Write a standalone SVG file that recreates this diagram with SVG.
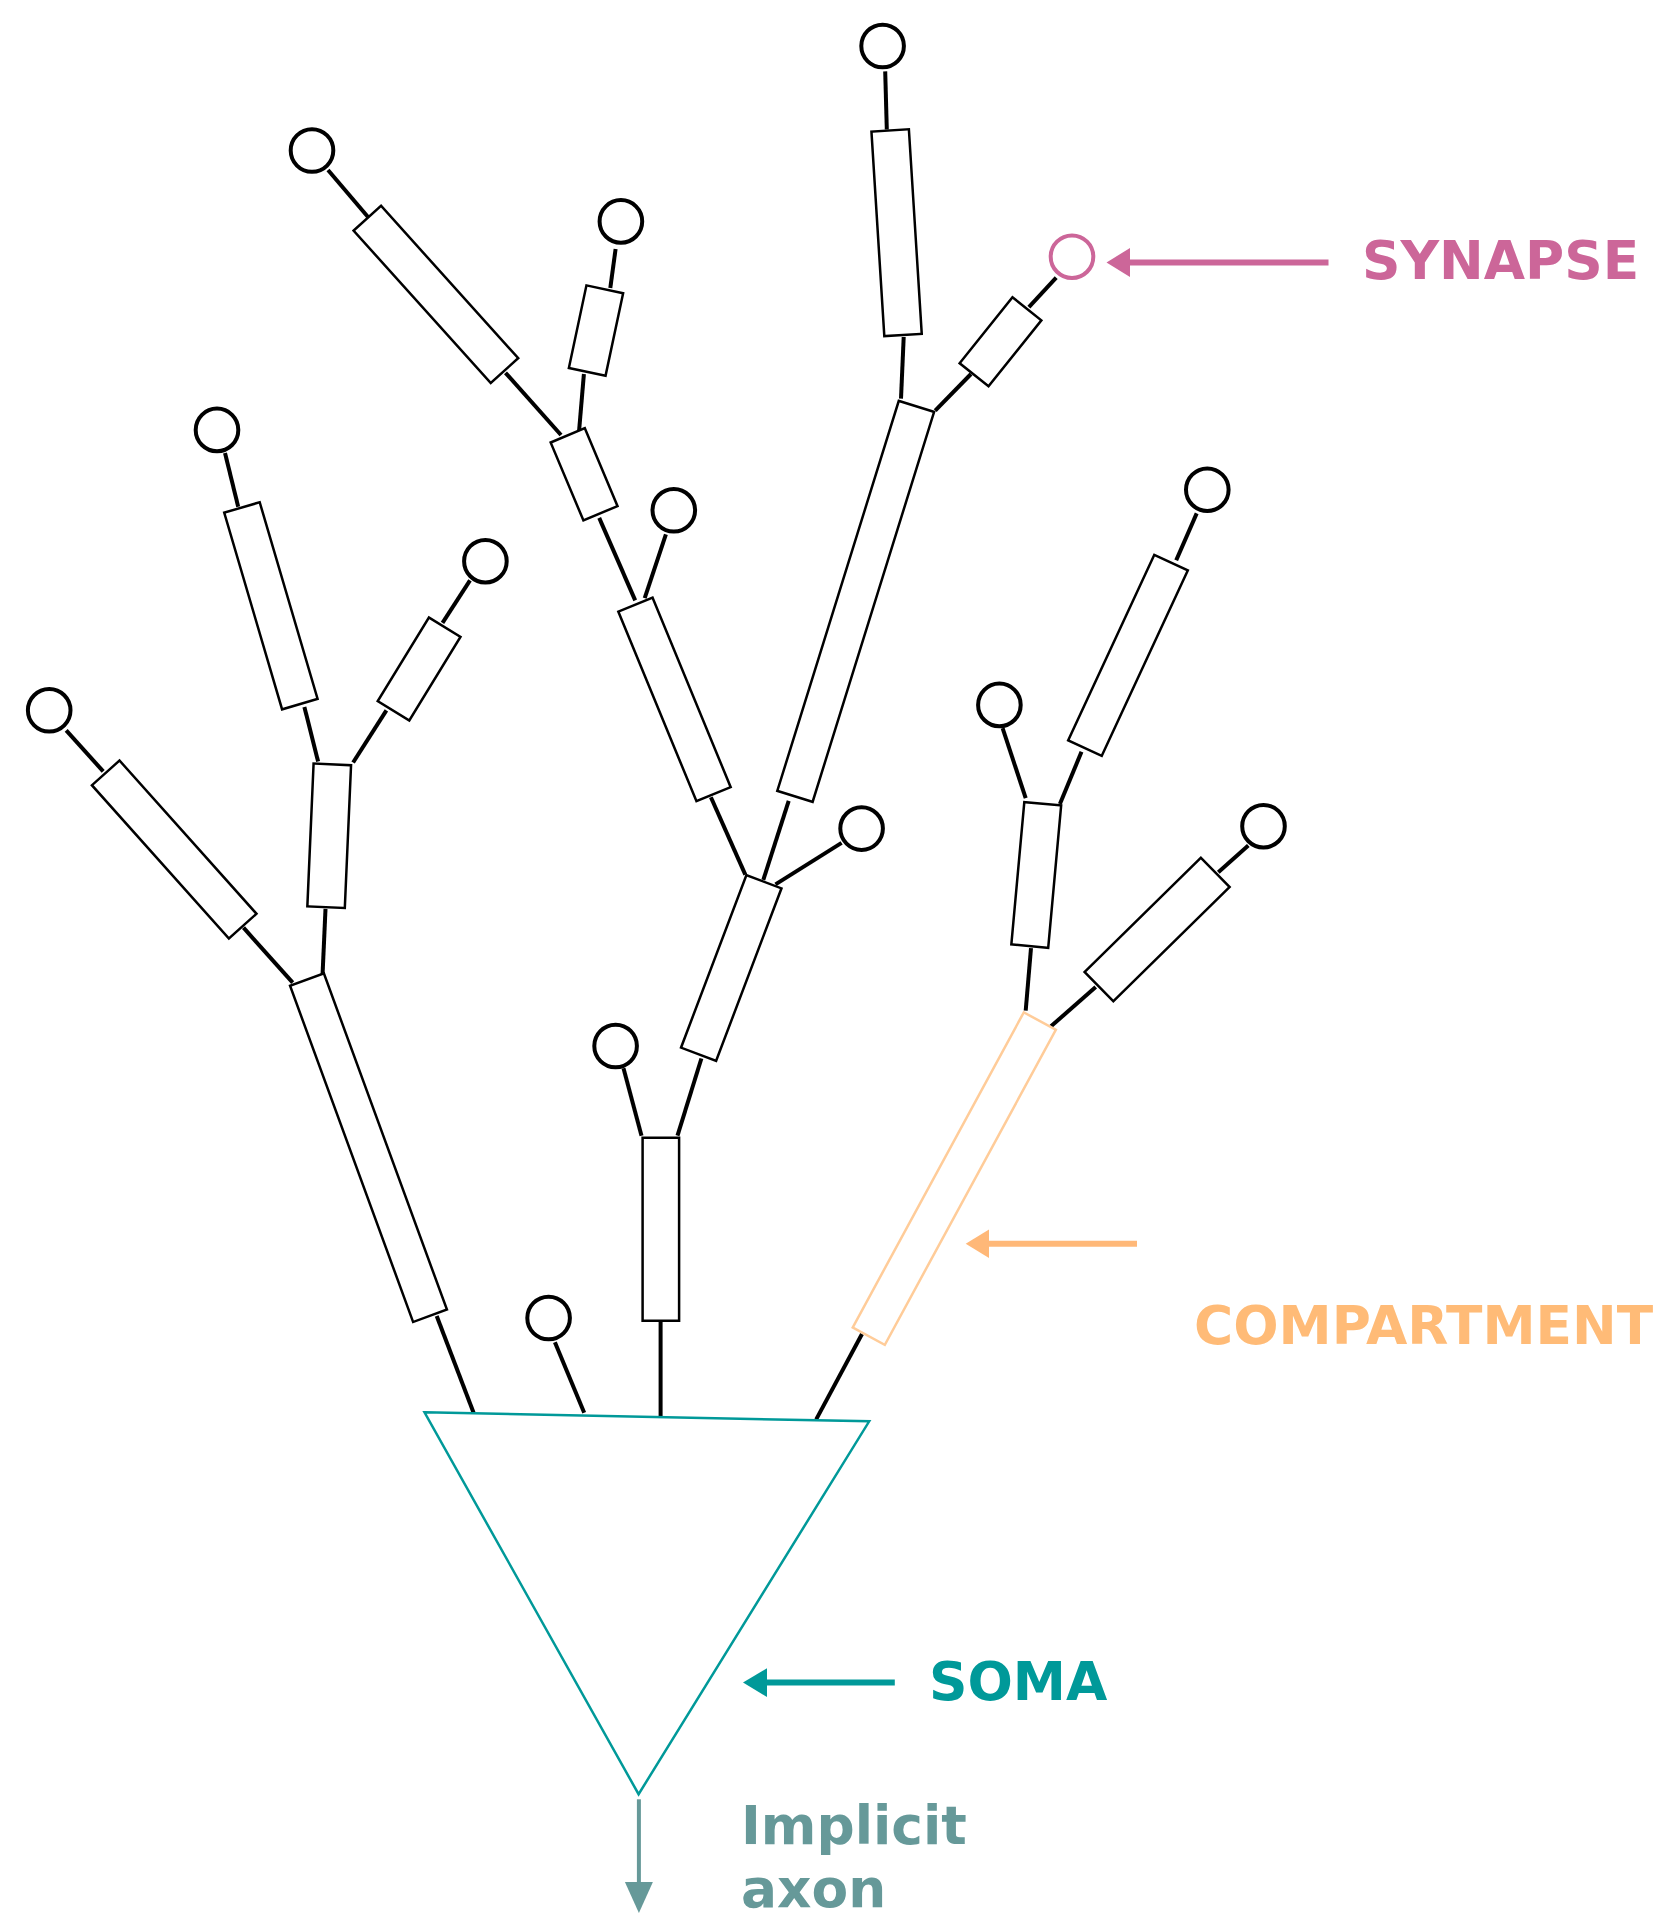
<svg xmlns="http://www.w3.org/2000/svg" width="1655" height="1914" viewBox="0 0 1655 1914">
<style>
.comp{fill:#fff;stroke:#000;stroke-width:2.5}
.orange{fill:#fff;stroke:#FFCC99;stroke-width:2.5}
.syn{fill:#fff;stroke:#000;stroke-width:4}
.con{stroke:#000;stroke-width:4;fill:none;stroke-linecap:butt}
.lbl{font-family:"DejaVu Sans","Liberation Sans",sans-serif;font-weight:bold;font-size:53.4px}
</style>
<rect width="1655" height="1914" fill="#fff"/>
<g id="connectors">
<line class="con" x1="885.2" y1="71.4" x2="886.8" y2="129.5"/>
<line class="con" x1="328" y1="170" x2="368" y2="217"/>
<line class="con" x1="505.5" y1="372.8" x2="561" y2="435"/>
<line class="con" x1="615.6" y1="249" x2="610.3" y2="288"/>
<line class="con" x1="583.9" y1="374" x2="578.6" y2="436.6"/>
<line class="con" x1="599.2" y1="517.9" x2="635.2" y2="600.4"/>
<line class="con" x1="665.9" y1="534.4" x2="644.7" y2="598.2"/>
<line class="con" x1="710.9" y1="797.3" x2="745.3" y2="874.6"/>
<line class="con" x1="903.7" y1="337" x2="901" y2="398.7"/>
<line class="con" x1="1056.2" y1="277.7" x2="1028.9" y2="307.1"/>
<line class="con" x1="971" y1="374" x2="935.2" y2="410.7"/>
<line class="con" x1="788.7" y1="800.9" x2="763.3" y2="879.9"/>
<line class="con" x1="841.6" y1="842.9" x2="775.5" y2="884.4"/>
<line class="con" x1="701.4" y1="1058.5" x2="677.5" y2="1135.7"/>
<line class="con" x1="623.5" y1="1068.3" x2="641.5" y2="1135.7"/>
<line class="con" x1="660.6" y1="1321.9" x2="660.6" y2="1416.7"/>
<line class="con" x1="554.9" y1="1342.3" x2="584.2" y2="1412.8"/>
<line class="con" x1="436.7" y1="1316" x2="473.6" y2="1412.8"/>
<line class="con" x1="225" y1="453" x2="238.2" y2="506.7"/>
<line class="con" x1="304.4" y1="707.1" x2="318.1" y2="761.6"/>
<line class="con" x1="470" y1="580.4" x2="442.5" y2="622.8"/>
<line class="con" x1="386.4" y1="710.3" x2="353.1" y2="762.5"/>
<line class="con" x1="325.5" y1="908.9" x2="322.4" y2="978.1"/>
<line class="con" x1="66.2" y1="730.4" x2="103.2" y2="771.4"/>
<line class="con" x1="243.5" y1="927.7" x2="292.7" y2="982.6"/>
<line class="con" x1="1196.7" y1="513.4" x2="1176.2" y2="560.3"/>
<line class="con" x1="1081.5" y1="751.8" x2="1059.9" y2="804"/>
<line class="con" x1="1002.6" y1="728.1" x2="1025.7" y2="798.2"/>
<line class="con" x1="1031" y1="948.2" x2="1025.7" y2="1010.7"/>
<line class="con" x1="1248.3" y1="845.5" x2="1218.3" y2="872.3"/>
<line class="con" x1="1095.7" y1="987" x2="1051" y2="1026.3"/>
<line class="con" x1="862" y1="1334" x2="816.2" y2="1419.4"/>
</g>
<g id="compartments">
<g id="R_a"><rect class="comp" x="-18.5" y="-102.5" width="37" height="205" transform="translate(435.9,294.4) rotate(-42)"/></g>
<g id="R_b"><rect class="comp" x="-18.75" y="-42.25" width="37.5" height="84.5" transform="translate(596,330.6) rotate(12)"/></g>
<g id="R_c"><rect class="comp" x="-18.5" y="-42.25" width="37" height="84.5" transform="translate(584.1,474.3) rotate(-22.8)"/></g>
<g id="R_d"><rect class="comp" x="-18.5" y="-102.5" width="37" height="205" transform="translate(674.5,699.4) rotate(-22.4)"/></g>
<g id="R_e"><rect class="comp" x="-18.5" y="-102.5" width="37" height="205" transform="translate(270.9,605.8) rotate(-16.4)"/></g>
<g id="R_f"><rect class="comp" x="-18.5" y="-49" width="37" height="98" transform="translate(419.1,669) rotate(31.5)"/></g>
<g id="R_g"><rect class="comp" x="-18.75" y="-102.5" width="37.5" height="205" transform="translate(896.6,232.7) rotate(-3.6)"/></g>
<g id="R_h"><rect class="comp" x="-18.5" y="-42.25" width="37" height="84.5" transform="translate(1000.5,341.8) rotate(38.7)"/></g>
<g id="R_i"><rect class="comp" x="-18.5" y="-204.25" width="37" height="408.5" transform="translate(855.7,601.4) rotate(17.3)"/></g>
<g id="R_j"><rect class="comp" x="-18.5" y="-102.75" width="37" height="205.5" transform="translate(174.2,849.5) rotate(-41.8)"/></g>
<g id="R_k"><rect class="comp" x="-18.75" y="-71.5" width="37.5" height="143" transform="translate(329.2,835.8) rotate(2.5)"/></g>
<g id="R_l"><rect class="comp" x="-18" y="-179" width="36" height="358" transform="translate(368.5,1147.7) rotate(-20.1)"/></g>
<g id="R_m"><rect class="comp" x="-18.75" y="-92.25" width="37.5" height="184.5" transform="translate(731.25,968) rotate(20.75)"/></g>
<g id="R_n"><rect class="comp" x="-18.25" y="-91.5" width="36.5" height="183" transform="translate(660.85,1229.25)"/></g>
<g id="R_o"><rect class="comp" x="-18.5" y="-102.25" width="37" height="204.5" transform="translate(1128,655.4) rotate(24.9)"/></g>
<g id="R_p"><rect class="comp" x="-18.5" y="-71.5" width="37" height="143" transform="translate(1036.25,874.9) rotate(5.2)"/></g>
<g id="R_q"><rect class="comp" x="-20.5" y="-81.5" width="41" height="163" transform="translate(1157.1,929.5) rotate(45.5)"/></g>
<g id="R_r"><rect class="orange" x="-18.25" y="-179.25" width="36.5" height="358.5" transform="translate(954.3,1178.6) rotate(28.5)"/></g>
</g>
<g id="synapses">
<g id="C1"><circle class="syn" cx="882.6" cy="46" r="21.3"/></g>
<g id="C2"><circle class="syn" cx="312" cy="150.5" r="21.3"/></g>
<g id="C3"><circle class="syn" cx="620.9" cy="221.4" r="21.3"/></g>
<g id="C4"><circle cx="1072" cy="256.7" r="21.3" fill="#fff" stroke="#CC6699" stroke-width="4"/></g>
<g id="C5"><circle class="syn" cx="217" cy="429.9" r="21.3"/></g>
<g id="C6"><circle class="syn" cx="673.8" cy="510.3" r="21.3"/></g>
<g id="C7"><circle class="syn" cx="1207.3" cy="489.7" r="21.3"/></g>
<g id="C8"><circle class="syn" cx="485.4" cy="561.2" r="21.3"/></g>
<g id="C9"><circle class="syn" cx="49.2" cy="710.3" r="21.3"/></g>
<g id="C10"><circle class="syn" cx="999.4" cy="704.9" r="21.3"/></g>
<g id="C11"><circle class="syn" cx="861.6" cy="828.6" r="21.3"/></g>
<g id="C12"><circle class="syn" cx="1263.5" cy="826.2" r="21.3"/></g>
<g id="C13"><circle class="syn" cx="615.6" cy="1046" r="21.3"/></g>
<g id="C14"><circle class="syn" cx="548.6" cy="1318" r="21.3"/></g>
</g>
<g id="soma"><polygon points="424.5,1412.3 869.2,1421.3 638.6,1794.2" fill="none" stroke="#009999" stroke-width="2.5" stroke-linejoin="miter"/></g>
<g id="annotations">
<g id="synapse-label">
<line x1="1328.5" y1="262.5" x2="1128" y2="262.5" stroke="#CC6699" stroke-width="6"/>
<polygon points="1106.5,262.5 1130,248 1130,277" fill="#CC6699"/>
<text class="lbl" x="1362" y="279" fill="#CC6699">SYNAPSE</text>
</g>
<g id="compartment-label">
<line x1="1137" y1="1243.8" x2="987" y2="1243.8" stroke="#FFB878" stroke-width="6"/>
<polygon points="965.7,1243.8 989,1229.5 989,1258" fill="#FFB878"/>
<text class="lbl" x="1194" y="1344" fill="#FFBB77">COMPARTMENT</text>
</g>
<g id="soma-label">
<line x1="894.8" y1="1682.6" x2="766" y2="1682.6" stroke="#009999" stroke-width="6"/>
<polygon points="743,1682.6 767,1668.3 767,1697" fill="#009999"/>
<text class="lbl" x="929" y="1700" fill="#009999">SOMA</text>
</g>
<g id="axon-label">
<line x1="638.9" y1="1799.3" x2="638.9" y2="1884" stroke="#669999" stroke-width="4"/>
<polygon points="624.9,1882 652.9,1882 638.9,1913" fill="#669999"/>
<text class="lbl" fill="#669999"><tspan x="741" y="1844">Implicit</tspan><tspan x="741" y="1907">axon</tspan></text>
</g>
</g>
</svg>
